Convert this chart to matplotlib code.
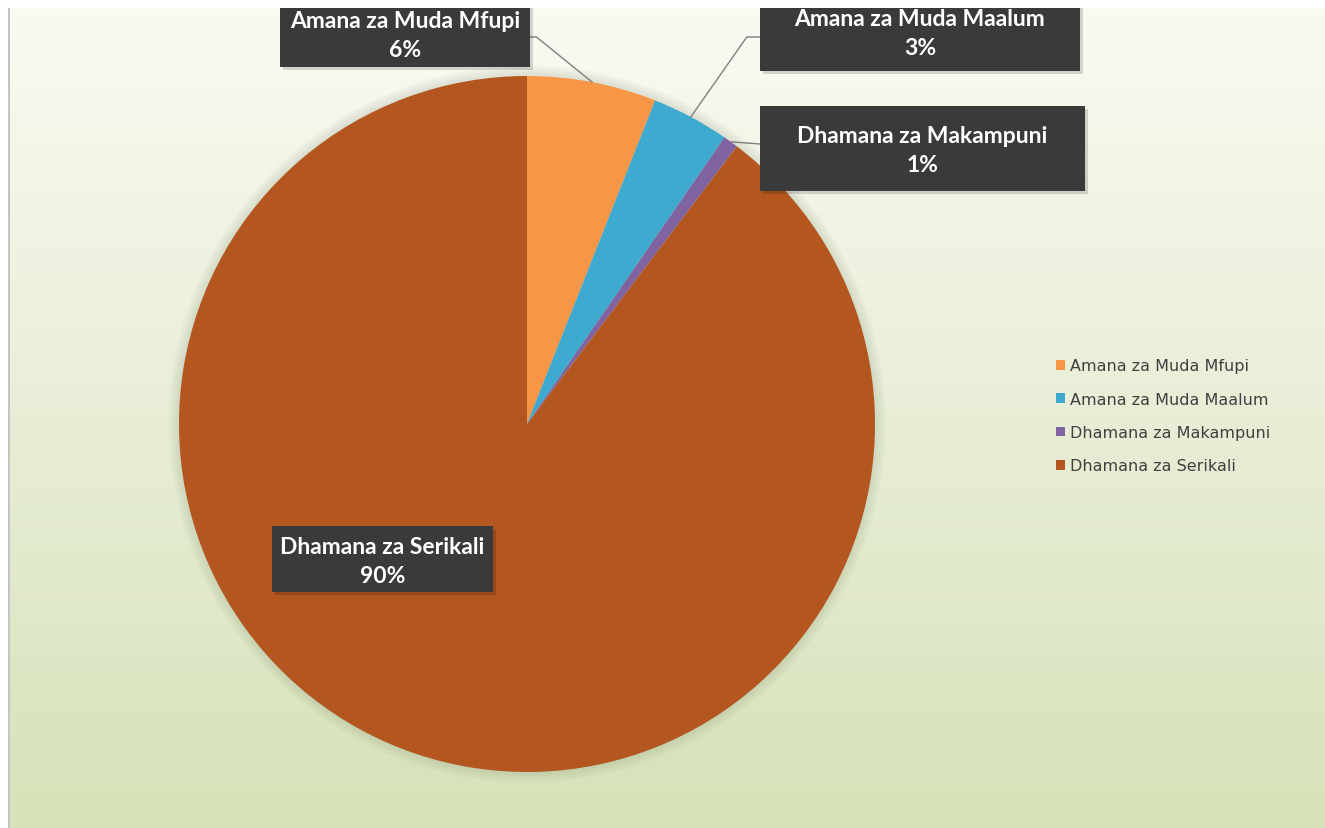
from matplotlib import pyplot as plt
from matplotlib.patches import Circle, Rectangle
import numpy as np

# data
categories = ["Amana za Muda Mfupi", "Amana za Muda Maalum",
              "Dhamana za Makampuni", "Dhamana za Serikali"]
shares = [6.0, 3.6, 0.7, 89.7]
pct_labels = ["6%", "3%", "1%", "90%"]
colors = ["#F79646", "#3FAAD0", "#8064A2", "#B3561F"]

W, H = 1325, 829
plt.rcParams['font.family'] = ['Lato', 'DejaVu Sans']

fig = plt.figure(figsize=(W / 100, H / 100), dpi=100)
fig.patch.set_facecolor("white")

# gradient background
bg = fig.add_axes([10 / W, 0, 1 - 10 / W, 1 - 9 / H])
top = np.array([250, 250, 243]) / 255
bot = np.array([214, 226, 185]) / 255
t = np.linspace(0, 1, 256)[:, None]
grad = top[None, :] * (1 - t) + bot[None, :] * t
bg.imshow(grad[:, None, :], aspect="auto", extent=[0, 1, 0, 1])
bg.axis("off")
fig.add_artist(Rectangle((8 / W, 0), 2 / W, 1 - 9 / H, transform=fig.transFigure,
                         color="#C4C4C4", lw=0))

# pie
cx, cy, r = 527, 425, 348
ax = fig.add_axes([(cx - 1.05 * r) / W, (H - cy - 1.05 * r) / H,
                   2.1 * r / W, 2.1 * r / H])
for k in range(6):
    ax.add_patch(Circle((0, 0), 1.0 + 0.006 * k, color="#6F7A60",
                        alpha=0.035, lw=0, zorder=0))
wedges, _ = ax.pie(shares, colors=colors, startangle=90, counterclock=False,
                   radius=1, wedgeprops=dict(linewidth=0))
ax.set_xlim(-1.05, 1.05)
ax.set_ylim(-1.05, 1.05)
ax.axis("off")

# label boxes in pixels from the top-left corner: x0, y0, x1, y1
label_boxes = [(280, -5, 530, 68), (760, -5, 1080, 72),
               (760, 107, 1085, 192), (272, 527, 493, 593)]
text_y = [36, 34, 151, 562]
leader_start = [(530, 38), (760, 38), (760, 145), None]
conn = ["angle,angleA=0,angleB=141,rad=0", "angle,angleA=0,angleB=55,rad=0",
        "arc3,rad=0", None]

for i, w in enumerate(wedges):
    x0, y0, x1, y1 = label_boxes[i]
    # soft shadow + box
    fig.add_artist(Rectangle((x0 + 3, H - y1 - 3), x1 - x0, y1 - y0,
                             transform=None, fc="#000000", alpha=0.15, lw=0,
                             zorder=4))
    fig.add_artist(Rectangle((x0, H - y1), x1 - x0, y1 - y0, transform=None,
                             fc="#3A3A3A", lw=0, zorder=5))
    fig.text((x0 + x1) / 2 / W, 1 - text_y[i] / H,
             categories[i] + "\n" + pct_labels[i], color="white",
             fontsize=16.5, fontweight="bold", ha="center", va="center",
             linespacing=1.5, zorder=6)
    if leader_start[i] is not None:
        mid = np.deg2rad((w.theta1 + w.theta2) / 2)
        sx, sy = leader_start[i]
        ax.annotate("", xy=(np.cos(mid), np.sin(mid)), xytext=(sx, H - sy),
                    textcoords="figure pixels",
                    arrowprops=dict(arrowstyle="-", color="#7F7F7F", lw=1,
                                    connectionstyle=conn[i],
                                    shrinkA=0, shrinkB=0))

leg = fig.legend(wedges, categories, loc="upper left",
                 bbox_to_anchor=(1042 / W, 1 - 345 / H),
                 frameon=False, labelspacing=1.15,
                 prop=dict(family="DejaVu Sans", size=11.5),
                 handlelength=0.55, handleheight=0.55, handletextpad=0.3)
for tx in leg.get_texts():
    tx.set_color("#404040")

# white strip along the top edge
fig.add_artist(Rectangle((0, 1 - 9 / H), 1, 9 / H, transform=fig.transFigure,
                         color="white", lw=0, zorder=10))

fig.savefig("out.png", dpi=100, facecolor=fig.get_facecolor())
